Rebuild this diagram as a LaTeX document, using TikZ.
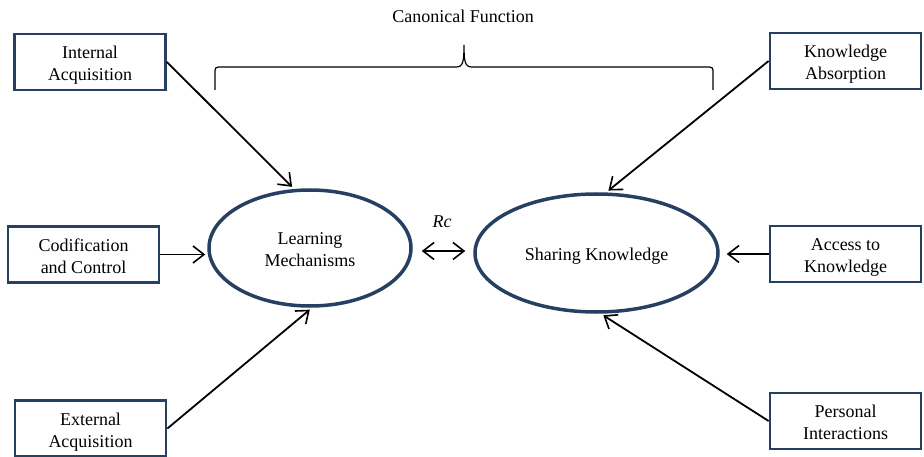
\documentclass[tikz,border=0pt]{standalone}
\usepackage{fontspec}
\setmainfont{Liberation Serif}
\usetikzlibrary{shapes.geometric,arrows.meta}
\definecolor{boxblue}{RGB}{38,64,97}
\newcommand\lowtxt[1]{\raisebox{-3.5pt}[\height][\depth]{\begin{tabular}{@{}c@{}}#1\end{tabular}}}
\tikzset{
  box/.style={draw=boxblue, line width=2.8pt, minimum width=151pt, minimum height=56pt, inner sep=2pt, align=center, font=\fontsize{18}{22}\selectfont},
  oval/.style={ellipse, draw=boxblue, line width=3.5pt, inner sep=0pt, align=center, font=\fontsize{18}{22}\selectfont},
  tip/.style={Straight Barb[length=11pt,width=17pt,line width=1.6pt]},
  arr/.style={-{Straight Barb[length=11pt,width=17pt,line width=1.6pt]}, line width=1.8pt},
  darr/.style={{Straight Barb[length=11pt,width=17pt,line width=1.6pt]}-{Straight Barb[length=11pt,width=17pt,line width=1.6pt]}, line width=1.8pt},
  lbl/.style={font=\fontsize{18}{22}\selectfont, inner sep=0pt}
}
\begin{document}
\begin{tikzpicture}[x=1pt,y=-1pt]
\useasboundingbox (0,0) rectangle (924,457);
% boxes
\node[box] (ia) at (90,62) {\lowtxt{Internal\\Acquisition}};
\node[box] (cc) at (83.5,254.5) {\lowtxt{Codification\\and Control}};
\node[box] (ea) at (90.5,428.5) {\lowtxt{External\\Acquisition}};
\node[box] (ka) at (845.5,61) {\lowtxt{Knowledge\\Absorption}};
\node[box] (ak) at (845.5,254) {\lowtxt{Access to\\Knowledge}};
\node[box] (pi) at (845.5,421) {\lowtxt{Personal\\Interactions}};
% ellipses
\node[oval, minimum width=202pt, minimum height=116pt] (lm) at (310,248) {\lowtxt{Learning\\Mechanisms}};
\node[oval, minimum width=243pt, minimum height=118pt] (sk) at (596.5,253) {\lowtxt{Sharing Knowledge}};
% labels
\node[lbl] (cf) at (463,16) {Canonical Function};
\node[lbl, font=\fontsize{18}{22}\selectfont\itshape] (rcl) at (442,222) {Rc};
\coordinate (rc) at (443,251);
% brace
\draw[line width=1.2pt] (215,90) -- (215,74) .. controls (215,67) .. (222,67) -- (456,67)
  .. controls (463,67) and (464,62) .. (464,45)
  .. controls (464,62) and (465,67) .. (472,67) -- (706,67)
  .. controls (713,67) .. (713,74) -- (713,90);
% arrows
\draw[arr, shorten >=3pt] (ia.east) -- (lm.105);
\draw[arr, shorten >=2pt] (cc.east) -- (cc.east -| lm.west);
\draw[arr, shorten >=3pt] (ea.east) -- (lm.-88);
\draw[arr, shorten >=3pt] (ka.west) -- (sk.81);
\draw[arr, shorten >=7pt] (ak.west) -- (ak.west -| sk.east);
\draw[arr, shorten >=3pt] (pi.west) -- (sk.-86);
\draw[darr, shorten <=9pt, shorten >=8pt] (lm.east |- rc) -- (sk.west |- rc);
\end{tikzpicture}
\end{document}
